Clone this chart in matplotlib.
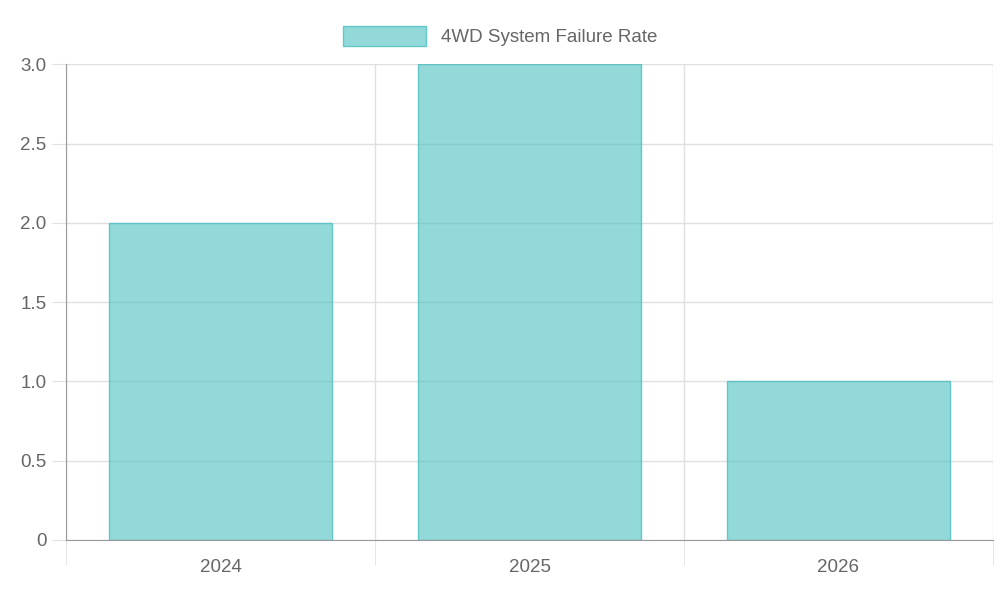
import matplotlib.pyplot as plt
from matplotlib.patches import Patch
import numpy as np

plt.rcParams["font.family"] = ["Liberation Sans", "DejaVu Sans"]

years = ["2024", "2025", "2026"]
failure_rate = [2, 3, 1]
y_ticks = [0, 0.5, 1.0, 1.5, 2.0, 2.5, 3.0]
y_labels = ["0", "0.5", "1.0", "1.5", "2.0", "2.5", "3.0"]

fill = (75 / 255, 192 / 255, 192 / 255, 0.6)
edge = (75 / 255, 192 / 255, 192 / 255, 0.8)
text_col = "#666666"
grid_col = "#e0e0e0"

fig = plt.figure(figsize=(10, 6), dpi=100)
ax = fig.add_axes([0.066, 0.10, 0.927, 0.793])

x = np.arange(len(years))
ax.bar(x, failure_rate, width=0.72, color=fill, edgecolor=edge, linewidth=1, zorder=2)

ax.set_xlim(-0.5, 2.5)
ax.set_ylim(0, 3)
ax.set_yticks(y_ticks)
ax.set_yticklabels(y_labels)
ax.set_xticks(x)
ax.set_xticklabels(years)
ax.set_xticks([-0.5, 0.5, 1.5, 2.5], minor=True)

ax.tick_params(axis="x", which="major", length=0, pad=14, labelsize=13.5, labelcolor=text_col)
ax.tick_params(axis="x", which="minor", length=18, color=grid_col)
ax.tick_params(axis="y", length=10, color=grid_col, labelsize=13.5, labelcolor=text_col, pad=4)

ax.grid(axis="y", color=grid_col, linewidth=1, zorder=0)
ax.grid(axis="x", which="minor", color=grid_col, linewidth=1, zorder=0)
ax.set_axisbelow(True)

for side in ["top", "right"]:
    ax.spines[side].set_visible(False)
ax.spines["left"].set_color("#999999")
ax.spines["bottom"].set_color("#999999")

fig.legend(
    handles=[Patch(facecolor=fill, edgecolor=edge, label="4WD System Failure Rate")],
    loc="upper center", bbox_to_anchor=(0.5, 0.985), frameon=False,
    fontsize=13.5, labelcolor=text_col, handlelength=4.4, handleheight=1.3,
)

fig.savefig("out.png", dpi=100)
